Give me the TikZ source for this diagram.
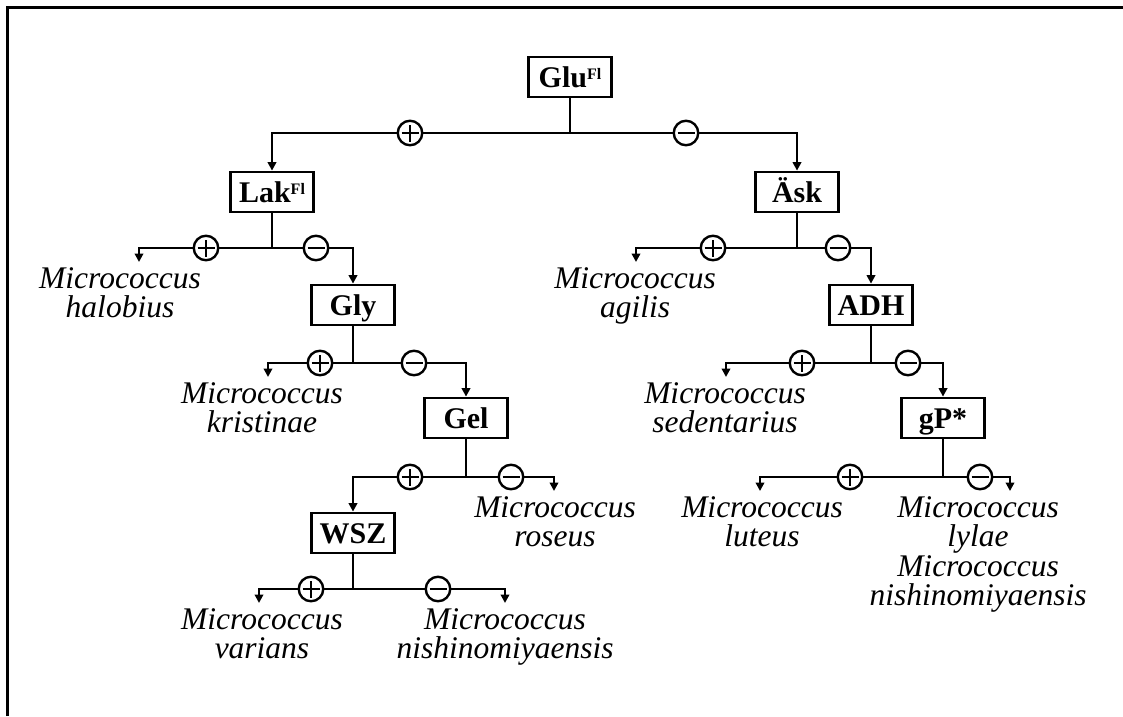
\documentclass[tikz,border=0pt]{standalone}
\usepackage{fontspec}
\setmainfont{Liberation Serif}
\usetikzlibrary{arrows.meta}
\newcommand{\fl}{\raisebox{8pt}{\fontsize{16}{16}\selectfont Fl}}
\begin{document}
\begin{tikzpicture}[x=1pt,y=-1pt,
  test/.style={draw, line width=2.8pt, minimum width=83pt, minimum height=40pt,
    inner sep=0pt, text height=20pt, text depth=0pt,
    font=\fontsize{30}{30}\selectfont\bfseries},
  taxon/.style={align=center, inner sep=0pt, anchor=north,
    font=\fontsize{31.5}{29.5}\selectfont\itshape},
  link/.style={line width=2.7pt},
  arr/.style={link, -{Triangle[length=8.5pt,width=8.5pt]}},
  sign/.style={circle, draw, fill=white, line width=2.4pt, minimum size=24.5pt, inner sep=0pt},
  signplus/.style={sign, path picture={
    \draw[line width=2.2pt]
      ([xshift=-8.5pt]path picture bounding box.center) -- ([xshift=8.5pt]path picture bounding box.center)
      ([yshift=-8.5pt]path picture bounding box.center) -- ([yshift=8.5pt]path picture bounding box.center);}},
  signminus/.style={sign, path picture={
    \draw[line width=2.2pt]
      ([xshift=-8.5pt]path picture bounding box.center) -- ([xshift=8.5pt]path picture bounding box.center);}},
]
\useasboundingbox (0,0) rectangle (1123,716);
% frame (top and left edges)
\draw[line width=3pt] (7,716) -- (7,7) -- (1123,7);

% test boxes
\node[test] (glu) at (570,77) {Glu\fl};
\node[test] (lak) at (272,192) {Lak\fl};
\node[test] (ask) at (797,192) {Äsk};
\node[test] (gly) at (353,305) {Gly};
\node[test] (adh) at (871,305) {ADH};
\node[test] (gel) at (466,418) {Gel};
\node[test] (gp)  at (943,418) {gP*};
\node[test] (wsz) at (353,533) {WSZ};

% branch points
\coordinate (glub) at (570,133);
\coordinate (lakb) at (272,248);
\coordinate (askb) at (797,248);
\coordinate (glyb) at (353,363);
\coordinate (adhb) at (871,363);
\coordinate (gelb) at (466,477);
\coordinate (gpb)  at (943,477);
\coordinate (wszb) at (353,589);

% free ends of the leaf arrows
\coordinate (lakL) at (139,262);
\coordinate (askL) at (636,262);
\coordinate (glyL) at (268,377);
\coordinate (adhL) at (726,377);
\coordinate (gelR) at (554,491);
\coordinate (gpL)  at (760,491);
\coordinate (gpR)  at (1010,491);
\coordinate (wszL) at (259,603);
\coordinate (wszR) at (505,603);

% stems
\foreach \n in {glu,lak,ask,gly,adh,gel,gp,wsz}
  \draw[link] (\n.south) -- (\n b);

% branches
\draw[arr] (glub) -| (lak.north);
\draw[arr] (glub) -| (ask.north);
\draw[arr] (lakb) -| (lakL);
\draw[arr] (lakb) -| (gly.north);
\draw[arr] (askb) -| (askL);
\draw[arr] (askb) -| (adh.north);
\draw[arr] (glyb) -| (glyL);
\draw[arr] (glyb) -| (gel.north);
\draw[arr] (adhb) -| (adhL);
\draw[arr] (adhb) -| (gp.north);
\draw[arr] (gelb) -| (wsz.north);
\draw[arr] (gelb) -| (gelR);
\draw[arr] (gpb) -| (gpL);
\draw[arr] (gpb) -| (gpR);
\draw[arr] (wszb) -| (wszL);
\draw[arr] (wszb) -| (wszR);

% outcome signs
\node[signplus]  (glup) at (410,133) {};
\node[signminus] (glum) at (686,133) {};
\node[signplus]  (lakp) at (206,248) {};
\node[signminus] (lakm) at (316,248) {};
\node[signplus]  (askp) at (713,248) {};
\node[signminus] (askm) at (838,248) {};
\node[signplus]  (glyp) at (320,363) {};
\node[signminus] (glym) at (414,363) {};
\node[signplus]  (adhp) at (802,363) {};
\node[signminus] (adhm) at (908,363) {};
\node[signplus]  (gelp) at (410,477) {};
\node[signminus] (gelm) at (511,477) {};
\node[signplus]  (gpp)  at (850,477) {};
\node[signminus] (gpm)  at (980,477) {};
\node[signplus]  (wszp) at (311,589) {};
\node[signminus] (wszm) at (438,589) {};

% species
\node[taxon] (halobius)    at (120,267) {Micrococcus\\halobius};
\node[taxon] (agilis)      at (635,267) {Micrococcus\\agilis};
\node[taxon] (kristinae)   at (262,382) {Micrococcus\\kristinae};
\node[taxon] (sedentarius) at (725,382) {Micrococcus\\sedentarius};
\node[taxon] (roseus)      at (555,496) {Micrococcus\\roseus};
\node[taxon] (luteus)      at (762,496) {Micrococcus\\luteus};
\node[taxon] (lylae)       at (978,496) {Micrococcus\\lylae\\Micrococcus\\nishinomiyaensis};
\node[taxon] (varians)     at (262,608) {Micrococcus\\varians};
\node[taxon] (nishino)     at (505,608) {Micrococcus\\nishinomiyaensis};
\end{tikzpicture}
\end{document}
